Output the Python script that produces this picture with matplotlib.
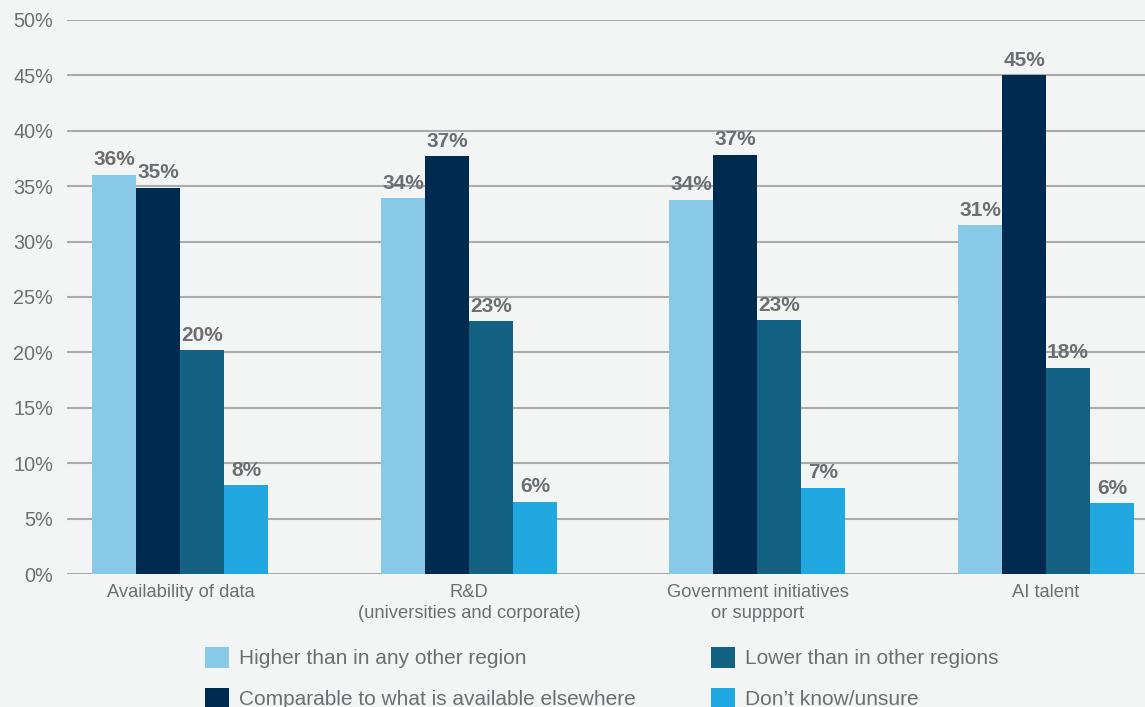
import matplotlib.pyplot as plt
import numpy as np

plt.rcParams['font.family'] = ['Liberation Sans', 'DejaVu Sans']

categories = ['Availability of data', 'R&D\n(universities and corporate)',
              'Government initiatives\nor suppport', 'AI talent']
series = ['Higher than in any other region', 'Comparable to what is available elsewhere',
          'Lower than in other regions', 'Don\u2019t know/unsure']

# bar heights, printed labels as shown
higher = [36.0, 33.9, 33.75, 31.45]
comparable = [34.85, 37.7, 37.8, 45.0]
lower = [20.2, 22.8, 22.9, 18.6]
unsure = [8.0, 6.5, 7.8, 6.4]

higher_lbl = [36, 34, 34, 31]
comparable_lbl = [35, 37, 37, 45]
lower_lbl = [20, 23, 23, 18]
unsure_lbl = [8, 6, 7, 6]

colors = ['#88C9E8', '#002B50', '#136183', '#22A8E0']
bg = '#F3F5F4'
grey = '#6D6E71'

fig = plt.figure(figsize=(11.45, 7.07), dpi=100, facecolor=bg)
ax = fig.add_axes([0.0585, 0.188, 0.9415, 0.784])
ax.set_facecolor(bg)

x = np.arange(len(categories))
w = 0.1525
data = [higher, comparable, lower, unsure]
labels = [higher_lbl, comparable_lbl, lower_lbl, unsure_lbl]
handles = []
for i, (vals, lbls) in enumerate(zip(data, labels)):
    pos = x + (i - 1.5) * w
    b = ax.bar(pos, vals, width=w, color=colors[i], zorder=3, label=series[i])
    handles.append(b)
    for p, v, l in zip(pos, vals, lbls):
        ax.annotate(f'{l}%', (p, v), xytext=(0, 4), textcoords='offset points',
                    ha='center', va='bottom', fontsize=15, fontweight='bold',
                    color=grey, annotation_clip=False)

ax.set_xlim(-0.393, 3.343)
ax.set_ylim(0, 50)
ax.set_yticks(np.arange(0, 51, 5))
ax.set_yticklabels([f'{t}%' for t in range(0, 51, 5)])
ax.set_xticks(x)
ax.set_xticklabels(categories, linespacing=1.35)
ax.tick_params(axis='y', length=0, pad=10, labelsize=14.3, labelcolor=grey)
ax.tick_params(axis='x', length=0, pad=7, labelsize=13.2, labelcolor=grey)
ax.grid(axis='y', color='#ABABAD', linewidth=1.5, zorder=0)
for s in ax.spines.values():
    s.set_visible(False)

fig.legend(handles=handles, labels=series, ncol=2, loc='upper left',
           bbox_to_anchor=(0.179, 0.085), frameon=False, fontsize=15,
           handlelength=1.15, handleheight=1.15, handletextpad=0.5,
           columnspacing=3.6, labelspacing=0.95, borderpad=0, borderaxespad=0,
           labelcolor=grey)

fig.savefig('out.png', dpi=100, facecolor=bg)
